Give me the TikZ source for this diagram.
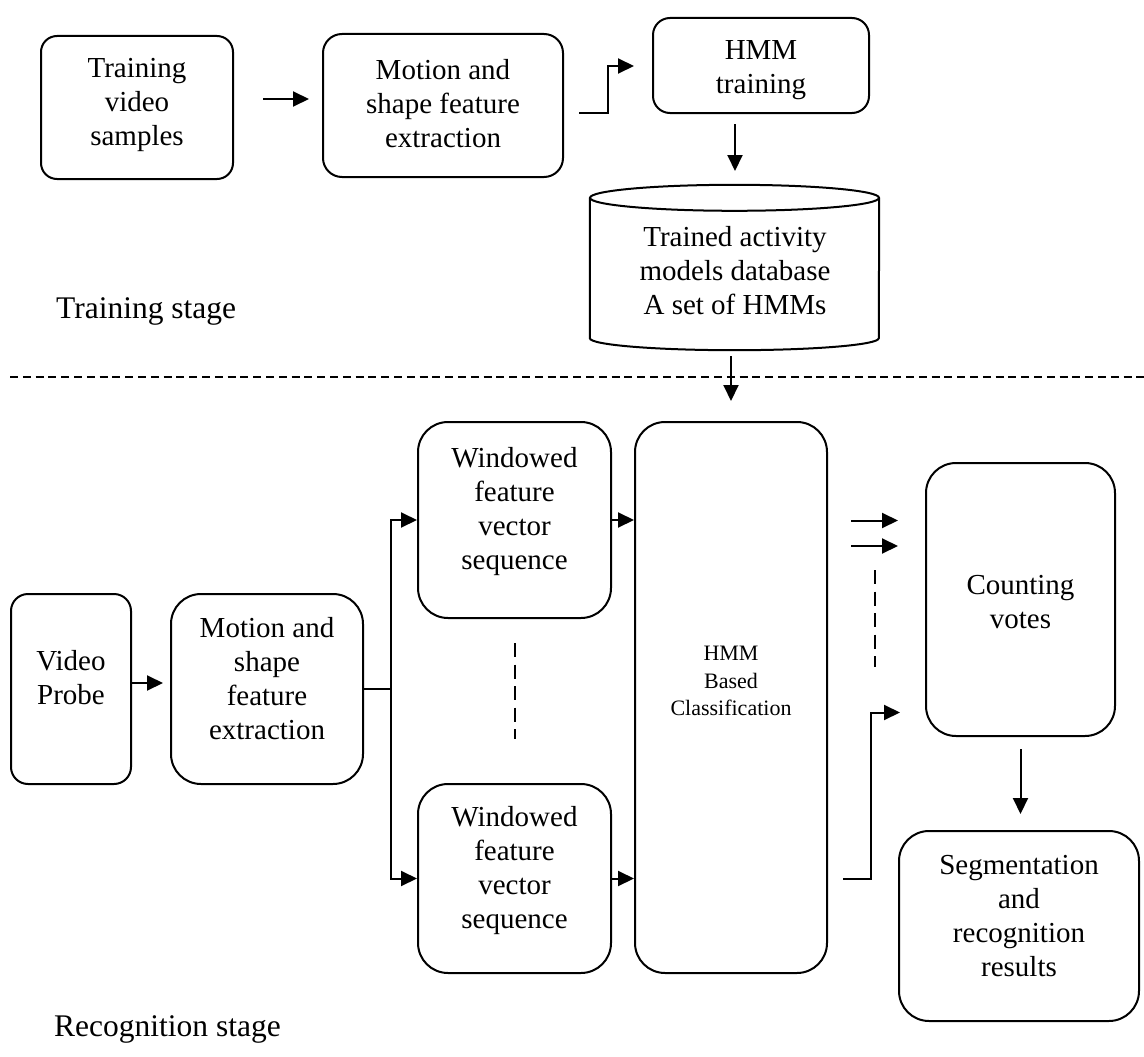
\documentclass[tikz,border=0pt]{standalone}
\usepackage{fontspec}
\setmainfont{Liberation Serif}
\usetikzlibrary{arrows.meta}

\tikzset{
  line/.style={line width=2pt},
  box/.style={line, draw, inner sep=0pt, rounded corners=#1},
  box/.default=30pt,
  txt/.style={inner sep=0pt, align=center, font=\fontsize{29}{34}\selectfont},
  small txt/.style={inner sep=0pt, align=center, font=\fontsize{22}{27.5}\selectfont},
  stage/.style={inner sep=0pt, anchor=base west, font=\fontsize{31.5}{36}\selectfont},
  arr/.style={line, -{Triangle[length=16pt,width=15pt]}},
  sepline/.style={line, dash pattern=on 8pt off 4.8pt},
  gapline/.style={line, dash pattern=on 14pt off 7.5pt},
}

\begin{document}
\begin{tikzpicture}[x=1pt, y=-1pt]
\useasboundingbox (0,0) rectangle (1144,1057);

% ---------------- training stage ----------------
\node[box=16pt, minimum width=192pt, minimum height=143pt] (tv) at (137,107.5) {};
\node[txt] (tv-t) at (137,105) {Training\\video\\samples};

\node[box=19pt, minimum width=240pt, minimum height=143pt] (mv1) at (443,105.5) {};
\node[txt] (mv1-t) at (443,104) {Motion and\\shape feature\\extraction};

\node[box=17pt, minimum width=216pt, minimum height=95pt] (hmmt) at (761,65.5) {};
\node[txt] (hmmt-t) at (761,70) {HMM\\training};

% model database (cylinder body as a node, outline drawn around it)
\node[inner sep=0pt, minimum width=289pt, minimum height=140pt] (cyl) at (734.5,268) {};
\draw[line] (cyl.north west) -- (cyl.south west)
  arc[start angle=180, end angle=360, x radius=144.5pt, y radius=12pt]
  -- (cyl.north east);
\draw[line] (cyl.north) ellipse [x radius=144.5pt, y radius=13pt];
\node[txt] (cyl-t) at (735,270.5) {Trained activity\\models database\\A set of HMMs};

\node[stage] (lab-train) at (56,318) {Training stage};

\draw[arr, shorten <=29pt, shorten >=13pt]
  ([yshift=8.5pt]tv.east) -- ([yshift=8.5pt]tv.east -| mv1.west);
\draw[arr] (mv1.east) ++(15,7.5) -- ++(29,0) -- ++(0,-47) -- ++(26,0);
\draw[arr] (hmmt.south) ++(-26,10) -- ++(0,47);

% separator between the two stages
\draw[sepline] (10,377) -- (1144,377);

% ---------------- recognition stage ----------------
\node[box=17pt, minimum width=120pt, minimum height=190pt] (vp) at (71,689) {};
\node[txt] (vp-t) at (71,678) {Video\\Probe};

\node[box, minimum width=192pt, minimum height=190pt] (mv2) at (267,689) {};
\node[txt] (mv2-t) at (267,678.5) {Motion and\\shape\\feature\\extraction};

\node[box, minimum width=193pt, minimum height=196pt] (w1) at (514.5,520) {};
\node[txt] (w1-t) at (514.5,512) {Windowed\\feature\\vector\\sequence};

\node[box, minimum width=193pt, minimum height=189pt] (w2) at (514.5,878.5) {};
\node[txt] (w2-t) at (514.5,870.5) {Windowed\\feature\\vector\\sequence};

\node[box, minimum width=192pt, minimum height=551pt] (hmc) at (731,697.5) {};
\node[small txt] (hmc-t) at (731,681) {HMM\\Based\\Classification};

\node[box, minimum width=189pt, minimum height=273pt] (cv) at (1020.5,599.5) {};
\node[txt] (cv-t) at (1020.5,602) {Counting\\votes};

\node[box, minimum width=240pt, minimum height=190pt] (seg) at (1019,926) {};
\node[txt] (seg-t) at (1019,916) {Segmentation\\and\\recognition\\results};

\node[stage] (lab-rec) at (54,1036) {Recognition stage};

% connectors
\draw[arr, shorten <=18pt, shorten >=20pt] (cyl.south -| hmc.north) -- (hmc.north);
\draw[arr, shorten >=7pt] ([yshift=6pt]vp.east) -- ([yshift=6pt]vp.east -| mv2.west);

\coordinate (split) at (391,689);
\draw[line] (mv2.east) -- (split);
\draw[arr] (split) |- (w1.west);
\draw[arr] (split) |- (w2.west);
\draw[arr] (w1.east) -- (w1.east -| hmc.west);
\draw[arr] (w2.east) -- (w2.east -| hmc.west);

\draw[arr, shorten <=23pt, shorten >=27pt]
  ([yshift=177pt]hmc.east) -- ([yshift=177pt]hmc.east -| cv.west);
\draw[arr, shorten <=23pt, shorten >=27pt]
  ([yshift=151.5pt]hmc.east) -- ([yshift=151.5pt]hmc.east -| cv.west);
\draw[arr] (hmc.east |- w2.east) ++(15,0) -- ++(28,0) -- ++(0,-166) -- ++(29,0);

\draw[arr, shorten <=12pt, shorten >=16pt] (cv.south) -- (cv.south |- seg.north);

% elided parallel branches
\draw[gapline] (515,643) -- (515,739);
\draw[gapline] (875,570) -- (875,667);
\end{tikzpicture}
\end{document}
